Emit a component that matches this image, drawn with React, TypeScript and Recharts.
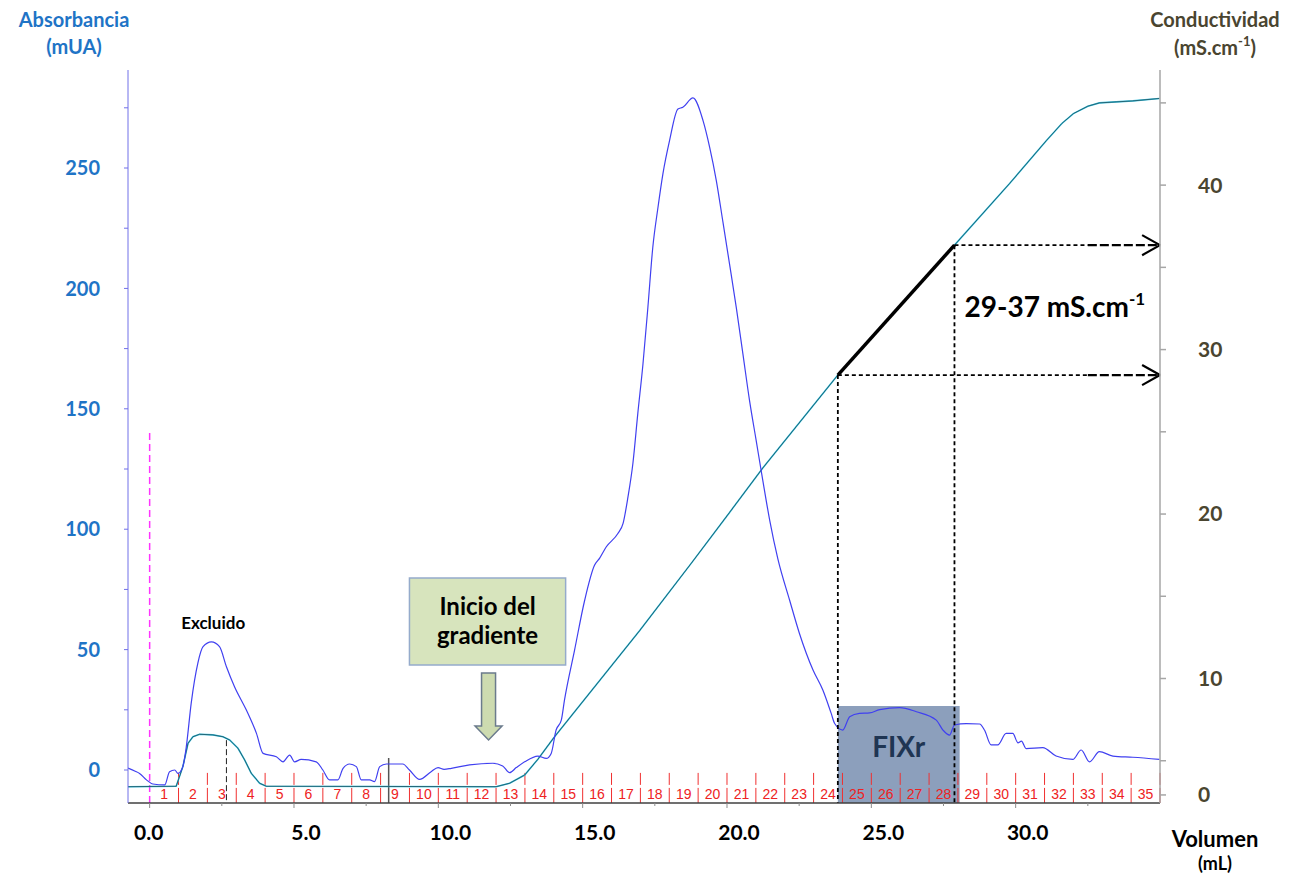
import React from 'react';
import { ComposedChart, Line, XAxis, YAxis, ReferenceLine, ReferenceArea, ReferenceDot } from 'recharts';

// UV 280 nm trace (mL, mUA)
const uvVolume = [
  -0.75, -0.5, -0.35, -0.11, 0.11, 0.52, 0.69, 0.87, 0.98, 1.15, 1.27, 1.44, 1.67, 1.85, 2.14, 2.42, 2.66, 2.94,
  3.35, 3.7, 3.93, 4.39, 4.62, 4.85, 5.02, 5.25, 5.77, 6.0, 6.23, 6.52, 6.7, 6.93, 7.16, 7.33, 7.62, 7.79, 7.97,
  8.2, 8.77, 9.0, 9.35, 9.75, 9.99, 10.2, 10.45, 11.08, 11.89, 12.23, 12.47, 12.7, 12.99, 13.45, 13.74, 13.91,
  14.08, 14.26, 14.37, 14.72, 15.07, 15.41, 15.59, 15.82, 16.22, 16.4, 16.57, 16.74, 16.91, 17.09, 17.26, 17.43,
  17.61, 17.78, 18.01, 18.3, 18.47, 18.82, 19.17, 19.4, 19.63, 19.86, 20.09, 20.32, 20.55, 20.78, 21.01, 21.24,
  21.48, 21.76, 22.17, 22.51, 22.98, 23.32, 23.61, 23.73, 24.01, 24.25, 24.59, 24.94, 25.29, 25.98, 26.56, 27.25,
  27.48, 27.71, 27.88, 28.29, 28.75, 28.92, 29.15, 29.38, 29.67, 29.9, 30.08, 30.2, 30.36, 30.94, 31.4, 31.98,
  32.27, 32.56, 32.9, 33.37, 34.06, 34.98,
];
const uvAbsorbance = [
  0.8, -0.5, -1.4, -4.1, -5.8, -6.2, -0.7, 0, -1.4, 1.4, 9.7, 27.8, 44.4, 51.2, 53.2, 51.2, 42.9, 34.6,
  24.9, 15.2, 6.9, 5.5, 3.4, 6.2, 3.4, 4.4, 3.4, 0, -4.1, -4.1, 0.7, 2.5, 1.4, -4.1, -4.1, -4.8, 1.4,
  2.5, 2.5, 0, -3.9, -0.7, 1.0, 0.3, 0.7, 2.1, 2.8, 1.7, -1.1, 1.0, 3.4, 5.8, 4.8, 6.9,
  16.6, 20.7, 29, 49.8, 70.5, 85, 88, 92.7, 98.2, 102.4, 113.4, 127.3, 148, 168.7, 192.2, 217.1,
  233.7, 247.6, 261.4, 274.5, 275.2, 279.1, 269.7, 258.6, 244.8, 227.5, 210, 192.2, 172.9, 153.5, 136.9, 120.3,
  103.7, 87.8, 70.5, 56.7, 41.5, 33.2, 23.5, 19.3, 16.6, 22.1, 23.5, 23.7, 25.1, 25.9, 24.2, 20.7,
  16.6, 14.5, 18.7, 19.3, 19.1, 16.6, 10.4, 10.4, 15.2, 15.2, 11.3, 12.0, 8.9, 9.3, 5.8, 4.4,
  8.3, 3.4, 7.6, 5.8, 5.3, 4.4,
];

// conductivity trace (mL, mS/cm)
const condVolume = [
  -0.75, 0.92, 1.15, 1.33, 1.5, 1.73, 2.19, 2.54, 2.77, 3.06, 3.29, 3.52, 3.81, 4.04, 12.0, 12.47, 12.99,
  13.45, 14.0, 16.97, 18.76, 20.09, 21.24, 23.84, 27.88, 29.79, 31.06, 31.6, 32.0, 32.5, 32.9, 34.06, 34.98,
];
const condValue = [
  3.42, 3.45, 4.64, 6.06, 6.46, 6.61, 6.57, 6.46, 6.26, 5.76, 5.05, 4.24, 3.63, 3.45, 3.42, 3.63, 4.13,
  5.09, 6.4, 12.9, 17.0, 20.1, 22.8, 28.45, 36.35, 40.1, 42.7, 43.75, 44.35, 44.8, 45.0, 45.12, 45.27,
];

const fractions = [
  1, 2, 3, 4, 5, 6, 7, 8, 9, 10, 11, 12, 13, 14, 15, 16, 17, 18, 19, 20, 21, 22, 23, 24, 25, 26, 27, 28, 29, 30,
  31, 32, 33, 34, 35,
];
const volumeTicks = [0, 2.5, 5, 7.5, 10, 12.5, 15, 17.5, 20, 22.5, 25, 27.5, 30, 32.5];
const absTicks = [0, 25, 50, 75, 100, 125, 150, 175, 200, 225, 250, 275];
const condTicks = [2.92, 5, 10, 15, 20, 25, 30, 35, 40, 45];

// FIXr elution window
const fixrStart = 23.84;
const fixrEnd = 27.88;
const fixrBoxEnd = 28.06;
const fixrBoxTop = 26.6;
const condAtStart = 28.45;
const condAtEnd = 36.35;

const absDomain = [-13.7, 290.7];
const condDomain = [2.43, 47.0];
const volDomain = [-0.75, 35];

const uvData = uvVolume.map((x, i) => ({ x, y: uvAbsorbance[i] }));
const condData = condVolume.map((x, i) => ({ x, y: condValue[i] }));

const FONT = 'Lato, "Open Sans", sans-serif';
const BLUE = '#1F74C6';
const OLIVE = '#4A4530';

const VolumeTick = ({ x, y, payload }: any) => {
  const v = payload.value;
  const major = v % 5 === 0;
  return (
    <g>
      <line x1={x} y1={y} x2={x} y2={y + (major ? 5 : 3)} stroke="#8c8c8c" />
      {major && v <= 30 && (
        <text x={x + (v === 0 ? -1 : 12)} y={y + 37} textAnchor="middle" fontFamily={FONT} fontWeight={700} fontSize={21} fill="#000">
          {v.toFixed(1)}
        </text>
      )}
    </g>
  );
};

const DownArrow = ({ cx, cy }: any) => (
  <polygon
    points={`${cx - 7},${cy - 67} ${cx + 7},${cy - 67} ${cx + 7},${cy - 14} ${cx + 13.5},${cy - 14} ${cx},${cy} ${cx - 13.5},${cy - 14} ${cx - 7},${cy - 14}`}
    fill="#CDDBB0"
    stroke="#6B7B8C"
    strokeWidth={1.5}
  />
);

const arrowHead = (c: number) => [
  [{ x: 34.38, y: c + 0.61 }, { x: 35, y: c }],
  [{ x: 34.38, y: c - 0.61 }, { x: 35, y: c }],
];

export default function App() {
  return (
    <div style={{ position: 'absolute', left: 0, top: 0 }}>
      <ComposedChart width={1299} height={877} margin={{ top: 70, right: 0, bottom: 0, left: 0 }} style={{ fontFamily: FONT }}>
        <XAxis
          type="number"
          dataKey="x"
          domain={volDomain}
          ticks={volumeTicks}
          allowDataOverflow
          height={74}
          stroke="#404040"
          strokeWidth={1.5}
          tickLine={false}
          tickSize={0}
          tickMargin={0}
          tick={<VolumeTick />}
          label={{
            content: ({ viewBox }: any) => (
              <g fontFamily={FONT} fontWeight={700} fill="#000" textAnchor="middle">
                <text x={viewBox.x + viewBox.width + 55} y={viewBox.y + 44} fontSize={22}>Volumen</text>
                <text x={viewBox.x + viewBox.width + 55} y={viewBox.y + 67} fontSize={18}>(mL)</text>
              </g>
            ),
          }}
        />
        <YAxis
          yAxisId="left"
          type="number"
          domain={absDomain}
          ticks={absTicks}
          allowDataOverflow
          width={128}
          stroke="#7070E8"
          tickSize={4}
          tickMargin={24}
          tickFormatter={(v: number) => (v % 50 === 0 ? String(v) : '')}
          tick={{ fill: BLUE, fontSize: 20, fontWeight: 700, fontFamily: FONT }}
          label={{
            content: ({ viewBox }: any) => (
              <g fontFamily={FONT} fontWeight={700} fill={BLUE} textAnchor="middle" fontSize={20}>
                <text x={viewBox.x + 74} y={viewBox.y - 43}>Absorbancia</text>
                <text x={viewBox.x + 74} y={viewBox.y - 16}>(mUA)</text>
              </g>
            ),
          }}
        />
        <YAxis
          yAxisId="right"
          orientation="right"
          type="number"
          domain={condDomain}
          ticks={condTicks}
          allowDataOverflow
          width={139}
          stroke="#A6A6A6"
          strokeWidth={1.5}
          tickSize={6}
          tickMargin={32}
          tickFormatter={(v: number) => (v < 4 ? '0' : v % 10 === 0 ? String(v) : '')}
          tick={{ fill: OLIVE, fontSize: 21, fontWeight: 700, fontFamily: FONT }}
          label={{
            content: ({ viewBox }: any) => (
              <g fontFamily={FONT} fontWeight={700} fill={OLIVE} textAnchor="middle" fontSize={20}>
                <text x={viewBox.x + 55} y={viewBox.y - 43}>Conductividad</text>
                <text x={viewBox.x + 55} y={viewBox.y - 15}>
                  <tspan>(mS.cm</tspan>
                  <tspan fontSize={13} dy={-9}>-1</tspan>
                  <tspan dy={9}>)</tspan>
                </text>
              </g>
            ),
          }}
        />

        {/* FIXr pooled fractions */}
        <ReferenceArea
          yAxisId="left"
          x1={fixrStart}
          x2={fixrBoxEnd}
          y1={absDomain[0]}
          y2={fixrBoxTop}
          fill="#3F5F8F"
          fillOpacity={0.6}
          stroke="none"
          ifOverflow="visible"
          label={{
            content: ({ viewBox }: any) => (
              <text x={viewBox.x + viewBox.width / 2} y={viewBox.y + 51} textAnchor="middle" fontFamily={FONT} fontWeight={700} fontSize={28} fill="#1F3553">
                FIXr
              </text>
            ),
          }}
        />

        {/* fraction collector marks */}
        {fractions.map((n) => (
          <ReferenceLine
            key={`fl${n}`}
            yAxisId="left"
            segment={[{ x: n, y: -1.2 }, { x: n, y: absDomain[0] }]}
            stroke="#F03030"
            strokeWidth={1}
            strokeDasharray="12 3 16"
            ifOverflow="visible"
          />
        ))}
        {fractions.map((n) => (
          <ReferenceDot
            key={`fn${n}`}
            yAxisId="left"
            x={n - 0.5}
            y={-10}
            ifOverflow="visible"
            shape={(p: any) => (
              <text x={p.cx} y={p.cy} dy={5} textAnchor="middle" fontFamily='"Liberation Sans", Arial, sans-serif' fontSize={14} fill="#EE2222">
                {n}
              </text>
            )}
          />
        ))}

        {/* run markers */}
        <ReferenceLine yAxisId="left" segment={[{ x: 0, y: 140 }, { x: 0, y: absDomain[0] }]} stroke="#FF33FF" strokeWidth={1.5} strokeDasharray="7 4" ifOverflow="visible" />
        <ReferenceLine yAxisId="left" segment={[{ x: 2.66, y: 12.4 }, { x: 2.66, y: absDomain[0] }]} stroke="#222" strokeWidth={1} strokeDasharray="6 3" ifOverflow="visible" />
        <ReferenceLine yAxisId="left" segment={[{ x: 8.28, y: 5 }, { x: 8.28, y: absDomain[0] }]} stroke="#555" strokeWidth={1.5} ifOverflow="visible" />

        <Line yAxisId="right" data={condData} dataKey="y" type="linear" stroke="#33C0E0" strokeWidth={1.6} dot={false} activeDot={false} isAnimationActive={false} />
        <Line yAxisId="right" data={condData} dataKey="y" type="linear" stroke="#1E3F48" strokeWidth={0.7} dot={false} activeDot={false} isAnimationActive={false} />
        <Line yAxisId="left" data={uvData} dataKey="y" type="monotone" stroke="#4040F0" strokeWidth={1.2} dot={false} activeDot={false} isAnimationActive={false} />

        {/* conductivity window annotation */}
        <ReferenceLine yAxisId="right" segment={[{ x: fixrStart, y: condAtStart }, { x: fixrStart, y: condDomain[0] }]} stroke="#000" strokeWidth={1.8} strokeDasharray="4 3" ifOverflow="visible" />
        <ReferenceLine yAxisId="right" segment={[{ x: fixrEnd, y: condAtEnd }, { x: fixrEnd, y: condDomain[0] }]} stroke="#000" strokeWidth={1.8} strokeDasharray="4 3" ifOverflow="visible" />
        {[condAtStart, condAtEnd].map((c, i) => (
          <React.Fragment key={`h${i}`}>
            <ReferenceLine yAxisId="right" segment={[{ x: i === 0 ? fixrStart : fixrEnd, y: c }, { x: 32.5, y: c }]} stroke="#000" strokeWidth={1.8} strokeDasharray="4 3" ifOverflow="visible" />
            <ReferenceLine yAxisId="right" segment={[{ x: 32.5, y: c }, { x: 35, y: c }]} stroke="#000" strokeWidth={2.2} strokeDasharray="9 3" ifOverflow="visible" />
            {arrowHead(c).map((seg, j) => (
              <ReferenceLine key={`a${i}${j}`} yAxisId="right" segment={seg} stroke="#000" strokeWidth={2.2} ifOverflow="visible" />
            ))}
          </React.Fragment>
        ))}
        <ReferenceLine yAxisId="right" segment={[{ x: fixrStart, y: condAtStart }, { x: fixrEnd, y: condAtEnd }]} stroke="#000" strokeWidth={3.5} ifOverflow="visible" />
        <ReferenceDot
          yAxisId="right"
          x={28.23}
          y={31.98}
          ifOverflow="visible"
          shape={(p: any) => (
            <text x={p.cx} y={p.cy} fontFamily={FONT} fontWeight={700} fontSize={28} fill="#000">
              <tspan>29-37 mS.cm</tspan>
              <tspan fontSize={17} dy={-12}>-1</tspan>
            </text>
          )}
        />

        {/* gradient start */}
        <ReferenceArea
          yAxisId="left"
          x1={9.0}
          x2={14.41}
          y1={43.6}
          y2={79.7}
          fill="#D7E4BD"
          fillOpacity={1}
          stroke="#95ABCB"
          strokeWidth={1.5}
          ifOverflow="visible"
          label={{
            content: ({ viewBox }: any) => (
              <g fontFamily={FONT} fontWeight={700} fontSize={24} fill="#000" textAnchor="middle">
                <text x={viewBox.x + viewBox.width / 2} y={viewBox.y + 37}>Inicio del</text>
                <text x={viewBox.x + viewBox.width / 2} y={viewBox.y + 66}>gradiente</text>
              </g>
            ),
          }}
        />
        <ReferenceDot yAxisId="left" x={11.74} y={12.45} ifOverflow="visible" shape={<DownArrow />} />
        <ReferenceDot
          yAxisId="left"
          x={2.2}
          y={61}
          ifOverflow="visible"
          shape={(p: any) => (
            <text x={p.cx} y={p.cy} dy={6} textAnchor="middle" fontFamily={FONT} fontWeight={700} fontSize={17} fill="#000">
              Excluido
            </text>
          )}
        />
      </ComposedChart>
    </div>
  );
}
